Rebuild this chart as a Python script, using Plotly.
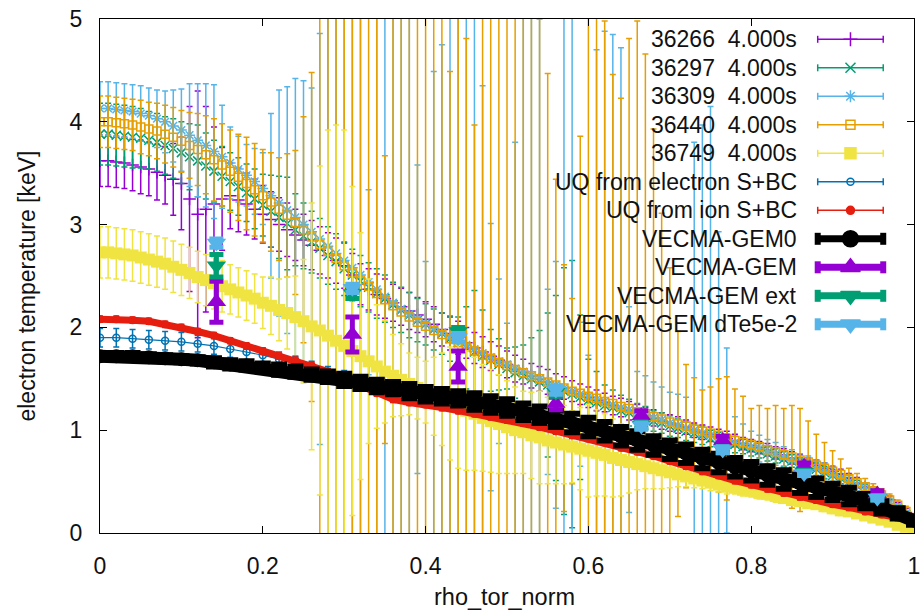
import plotly.graph_objects as go

# ---------------- data ----------------
# experimental profiles (shared rho grid, step 0.01)
RHO = [0.00,0.01,0.02,0.03,0.04,0.05,0.06,0.07,0.08,0.09,
       0.10,0.11,0.12,0.13,0.14,0.15,0.16,0.17,0.18,0.19,
       0.20,0.21,0.22,0.23,0.24,0.25,0.26,0.27,0.28,0.29,
       0.30,0.31,0.32,0.33,0.34,0.35,0.36,0.37,0.38,0.39,
       0.40,0.41,0.42,0.43,0.44,0.45,0.46,0.47,0.48,0.49,
       0.50,0.51,0.52,0.53,0.54,0.55,0.56,0.57,0.58,0.59,
       0.60,0.61,0.62,0.63,0.64,0.65,0.66,0.67,0.68,0.69,
       0.70,0.71,0.72,0.73,0.74,0.75,0.76,0.77,0.78,0.79,
       0.80,0.81,0.82,0.83,0.84,0.85,0.86,0.87,0.88,0.89,
       0.90,0.91,0.92,0.93,0.94,0.95,0.96,0.97,0.98,0.99,1.00]

TE_36266 = [3.62,3.62,3.61,3.60,3.58,3.56,3.54,3.51,3.48,3.44,
            3.40,3.25,3.10,3.15,3.20,3.25,3.28,3.24,3.20,3.15,
            3.10,3.05,3.00,2.95,2.90,2.85,2.80,2.75,2.70,2.65,
            2.60,2.51,2.42,2.37,2.32,2.28,2.24,2.20,2.16,2.12,
            2.08,2.03,1.98,1.94,1.90,1.85,1.80,1.76,1.72,1.68,
            1.64,1.60,1.57,1.53,1.50,1.47,1.44,1.41,1.38,1.35,
            1.32,1.29,1.27,1.24,1.22,1.19,1.17,1.14,1.12,1.09,
            1.07,1.05,1.03,1.00,0.98,0.96,0.94,0.92,0.90,0.87,
            0.85,0.83,0.81,0.78,0.76,0.73,0.71,0.68,0.66,0.63,
            0.60,0.57,0.53,0.49,0.45,0.41,0.37,0.32,0.26,0.20,0.13]
ER_36266 = [0.25,0.25,0.25,0.25,0.25,0.26,0.26,0.27,0.28,0.35,
            0.45,0.90,1.20,1.00,0.75,0.50,0.32,0.31,0.30,0.29,
            0.28,0.27,0.26,0.26,0.25,0.25,0.24,0.23,0.22,0.22,
            0.22,0.21,0.20,0.20,0.20,0.19,0.18,0.18,0.18,0.17,
            0.17,0.17,0.16,0.16,0.16,0.15,0.15,0.15,0.14,0.14,
            0.13,0.13,0.12,0.12,0.12,0.12,0.11,0.11,0.10,0.10,
            0.10,0.10,0.09,0.09,0.09,0.09,0.08,0.08,0.08,0.08,
            0.08,0.08,0.07,0.07,0.07,0.07,0.07,0.07,0.06,0.06,
            0.06,0.06,0.06,0.06,0.06,0.06,0.05,0.05,0.05,0.05,
            0.05,0.05,0.05,0.05,0.04,0.04,0.04,0.04,0.04,0.04,0.03]

TE_36297 = [3.88,3.88,3.87,3.86,3.85,3.84,3.82,3.80,3.77,3.74,
            3.70,3.66,3.62,3.57,3.52,3.47,3.42,3.37,3.31,3.25,
            3.19,3.13,3.07,3.01,2.95,2.89,2.83,2.77,2.70,2.64,
            2.57,2.51,2.45,2.39,2.33,2.28,2.22,2.17,2.12,2.07,
            2.03,1.98,1.94,1.89,1.85,1.80,1.76,1.72,1.68,1.64,
            1.60,1.56,1.53,1.50,1.47,1.44,1.41,1.38,1.35,1.32,
            1.29,1.27,1.24,1.22,1.19,1.17,1.14,1.12,1.09,1.07,
            1.04,1.02,0.99,0.97,0.95,0.92,0.90,0.88,0.86,0.84,
            0.82,0.80,0.77,0.75,0.72,0.70,0.67,0.65,0.62,0.59,
            0.56,0.53,0.49,0.46,0.42,0.38,0.34,0.29,0.24,0.18,0.12]
ER_36297 = [0.30,0.30,0.30,0.30,0.30,0.29,0.28,0.28,0.28,0.29,
            0.30,0.32,0.35,0.32,0.30,0.29,0.28,0.28,0.28,0.29,
            0.30,0.35,0.40,0.45,0.35,0.32,0.30,0.29,0.28,0.27,
            0.26,0.25,0.25,0.24,0.24,0.23,0.22,0.22,0.22,0.21,
            0.20,0.20,0.20,0.22,0.25,0.40,0.60,0.45,0.30,0.25,
            0.20,0.25,0.30,0.40,0.50,0.70,0.90,1.20,1.30,0.80,
            0.40,0.30,0.20,0.17,0.15,0.13,0.12,0.11,0.10,0.10,
            0.10,0.09,0.09,0.09,0.09,0.08,0.08,0.08,0.08,0.07,
            0.07,0.07,0.07,0.07,0.07,0.06,0.06,0.06,0.06,0.06,
            0.06,0.05,0.05,0.05,0.05,0.05,0.05,0.04,0.04,0.04,0.04]

TE_36309 = [4.13,4.13,4.12,4.11,4.10,4.08,4.06,4.03,4.00,3.96,
            3.92,3.87,3.82,3.77,3.71,3.66,3.60,3.54,3.48,3.42,
            3.35,3.28,3.21,3.14,3.07,3.00,2.93,2.86,2.79,2.72,
            2.65,2.58,2.51,2.44,2.37,2.30,2.24,2.18,2.13,2.08,
            2.04,1.99,1.95,1.91,1.87,1.83,1.79,1.75,1.71,1.67,
            1.64,1.60,1.57,1.53,1.50,1.47,1.44,1.41,1.38,1.35,
            1.33,1.30,1.28,1.25,1.22,1.20,1.17,1.15,1.12,1.10,
            1.07,1.05,1.02,1.00,0.97,0.95,0.93,0.90,0.88,0.86,
            0.84,0.82,0.79,0.77,0.74,0.71,0.68,0.66,0.63,0.60,
            0.57,0.54,0.50,0.47,0.43,0.39,0.34,0.29,0.24,0.18,0.12]
ER_36309 = [0.26,0.26,0.26,0.26,0.26,0.27,0.27,0.28,0.30,0.35,
            0.40,0.50,0.55,0.60,0.65,0.50,0.35,0.32,0.30,0.32,
            0.35,0.80,1.10,1.20,1.35,1.40,1.40,2.00,2.80,3.00,
            3.20,3.10,3.00,0.90,2.90,3.00,3.10,3.30,3.20,1.50,
            0.60,2.50,2.80,3.20,3.50,3.60,3.40,2.60,1.30,0.80,
            0.40,2.20,3.60,3.70,3.50,0.90,1.20,3.60,3.70,0.70,
            0.40,3.40,3.60,3.60,3.50,1.00,0.40,0.38,0.35,0.32,
            0.30,0.30,0.30,2.80,3.00,3.20,2.00,0.90,0.25,0.20,
            0.15,0.13,0.12,0.11,0.10,0.10,0.09,0.09,0.08,0.08,
            0.07,0.07,0.06,0.06,0.05,0.05,0.05,0.05,0.04,0.04,0.04]

TE_36440 = [4.00,4.00,3.99,3.98,3.97,3.95,3.93,3.91,3.88,3.85,
            3.81,3.77,3.73,3.68,3.63,3.58,3.52,3.46,3.40,3.34,
            3.28,3.22,3.15,3.09,3.02,2.95,2.88,2.81,2.74,2.67,
            2.60,2.53,2.46,2.40,2.33,2.27,2.21,2.15,2.10,2.05,
            2.01,1.97,1.93,1.89,1.85,1.81,1.77,1.73,1.70,1.66,
            1.63,1.59,1.56,1.53,1.50,1.47,1.44,1.41,1.38,1.36,
            1.33,1.31,1.28,1.26,1.23,1.21,1.18,1.16,1.13,1.11,
            1.08,1.06,1.04,1.01,0.99,0.97,0.95,0.92,0.90,0.88,
            0.86,0.84,0.81,0.79,0.76,0.74,0.71,0.69,0.66,0.63,
            0.60,0.57,0.53,0.49,0.45,0.41,0.37,0.32,0.27,0.21,0.14]
ER_36440 = [0.25,0.25,0.25,0.25,0.25,0.26,0.26,0.27,0.28,0.29,
            0.30,0.32,0.35,0.38,0.40,0.40,0.40,0.42,0.45,0.45,
            0.45,0.48,0.50,0.60,0.70,1.10,1.60,3.60,3.50,3.30,
            3.40,3.50,3.60,3.40,3.20,1.40,3.50,3.70,3.80,3.10,
            3.40,3.50,3.60,2.60,3.30,3.00,2.20,3.50,3.60,3.40,
            3.50,3.60,3.70,3.80,3.60,3.00,2.00,1.20,0.90,2.50,
            3.80,3.90,3.70,3.20,3.00,3.60,3.80,3.50,2.80,2.00,
            1.50,0.90,0.60,0.50,0.40,0.45,0.55,0.60,0.50,0.45,
            0.35,0.40,0.40,0.45,0.45,0.50,0.50,0.40,0.30,0.25,
            0.20,0.15,0.10,0.09,0.08,0.07,0.06,0.06,0.05,0.05,0.05]

TE_36749 = [2.73,2.73,2.72,2.71,2.70,2.68,2.66,2.64,2.62,2.59,
            2.56,2.53,2.49,2.46,2.43,2.40,2.37,2.34,2.31,2.28,
            2.24,2.21,2.17,2.14,2.10,2.06,2.01,1.97,1.92,1.87,
            1.82,1.77,1.72,1.67,1.62,1.57,1.53,1.49,1.45,1.41,
            1.37,1.33,1.30,1.26,1.23,1.19,1.16,1.12,1.09,1.06,
            1.03,1.00,0.98,0.95,0.93,0.90,0.88,0.86,0.84,0.82,
            0.80,0.78,0.76,0.73,0.71,0.69,0.67,0.65,0.63,0.61,
            0.59,0.57,0.55,0.53,0.51,0.49,0.47,0.45,0.44,0.42,
            0.41,0.39,0.38,0.36,0.34,0.32,0.31,0.29,0.28,0.26,
            0.24,0.22,0.21,0.19,0.17,0.15,0.13,0.11,0.08,0.06,0.04]
ER_36749 = [0.25,0.25,0.25,0.25,0.25,0.25,0.25,0.25,0.25,0.25,
            0.25,0.25,0.25,0.25,0.25,0.25,0.24,0.24,0.24,0.24,
            0.25,0.28,0.30,0.35,0.40,0.60,1.20,1.60,2.00,2.10,
            2.10,1.60,1.20,0.80,0.60,0.50,0.40,0.35,0.30,0.30,
            0.30,0.38,0.45,0.55,0.60,0.58,0.55,0.52,0.50,0.48,
            0.45,0.42,0.40,0.42,0.45,0.42,0.40,0.38,0.35,0.40,
            0.45,0.42,0.40,0.38,0.35,0.30,0.25,0.22,0.20,0.18,
            0.15,0.12,0.10,0.09,0.08,0.08,0.07,0.07,0.06,0.06,
            0.06,0.06,0.06,0.06,0.05,0.05,0.05,0.05,0.05,0.05,
            0.05,0.05,0.04,0.04,0.04,0.04,0.04,0.04,0.04,0.04,0.04]

# model profiles (step 0.02)
RHO_M = [0.00,0.02,0.04,0.06,0.08,0.10,0.12,0.14,0.16,0.18,
         0.20,0.22,0.24,0.26,0.28,0.30,0.32,0.34,0.36,0.38,
         0.40,0.42,0.44,0.46,0.48,0.50,0.52,0.54,0.56,0.58,
         0.60,0.62,0.64,0.66,0.68,0.70,0.72,0.74,0.76,0.78,
         0.80,0.82,0.84,0.86,0.88,0.90,0.92,0.94,0.96,0.98,1.00]

TE_UQ_E = [1.90,1.90,1.89,1.88,1.87,1.86,1.84,1.82,1.79,1.76,
           1.73,1.69,1.65,1.61,1.56,1.52,1.47,1.43,1.39,1.36,
           1.33,1.30,1.27,1.24,1.21,1.18,1.14,1.11,1.07,1.03,
           0.99,0.95,0.91,0.87,0.82,0.78,0.74,0.70,0.66,0.62,
           0.58,0.54,0.50,0.46,0.42,0.38,0.34,0.29,0.24,0.18,0.12]
ER_UQ_E = [0.09,0.09,0.09,0.09,0.09,0.09,0.08,0.08,0.08,0.08,
           0.07,0.07,0.07,0.06,0.06,0.06,0.05,0.05,0.05,0.05,
           0.05,0.05,0.05,0.05,0.05,0.05,0.05,0.05,0.05,0.05,
           0.05,0.05,0.05,0.05,0.05,0.05,0.05,0.05,0.05,0.05,
           0.04,0.04,0.04,0.04,0.04,0.04,0.04,0.04,0.03,0.03,0.03]

TE_UQ_I = [2.08,2.08,2.07,2.06,2.03,2.00,1.96,1.92,1.87,1.82,
           1.77,1.72,1.68,1.63,1.57,1.50,1.43,1.36,1.30,1.27,
           1.25,1.22,1.19,1.16,1.13,1.10,1.07,1.03,0.99,0.95,
           0.92,0.88,0.83,0.79,0.75,0.70,0.65,0.60,0.56,0.51,
           0.47,0.43,0.39,0.35,0.32,0.28,0.25,0.21,0.18,0.15,0.12]
ER_UQ_I = [0.03,0.03,0.03,0.03,0.03,0.03,0.03,0.03,0.03,0.03,
           0.03,0.03,0.03,0.03,0.03,0.03,0.03,0.03,0.03,0.03,
           0.03,0.03,0.03,0.03,0.03,0.03,0.03,0.03,0.03,0.03,
           0.03,0.03,0.03,0.03,0.03,0.03,0.03,0.03,0.03,0.03,
           0.03,0.03,0.03,0.03,0.03,0.03,0.03,0.03,0.03,0.03,0.03]

TE_GEM0 = [1.72,1.72,1.72,1.71,1.70,1.69,1.68,1.66,1.64,1.63,
           1.61,1.59,1.57,1.54,1.52,1.49,1.46,1.43,1.41,1.38,
           1.35,1.33,1.31,1.28,1.25,1.22,1.18,1.15,1.11,1.07,
           1.03,0.99,0.94,0.90,0.85,0.81,0.77,0.72,0.68,0.64,
           0.60,0.56,0.52,0.48,0.44,0.40,0.36,0.31,0.25,0.19,0.12]
ER_GEM0 = [0.03,0.03,0.03,0.03,0.03,0.03,0.03,0.04,0.04,0.04,
           0.04,0.05,0.05,0.05,0.05,0.06,0.06,0.06,0.06,0.07,
           0.07,0.07,0.07,0.08,0.08,0.08,0.08,0.08,0.08,0.09,
           0.09,0.09,0.09,0.09,0.09,0.09,0.09,0.09,0.09,0.09,
           0.09,0.09,0.09,0.09,0.09,0.08,0.08,0.07,0.06,0.05,0.04]

GEM_RHO = [0.143, 0.31, 0.44, 0.56, 0.665, 0.765, 0.865, 0.955]
TE_GEM = [2.25, 1.93, 1.62, 1.26, 1.14, 0.90, 0.65, 0.38]
ER_GEM = [0.20, 0.17, 0.15, 0.06, 0.05, 0.04, 0.03, 0.03]
TE_GEM_EXT = [2.60, 2.33, 1.96, 1.37, 1.05, 0.81, 0.59, 0.34]
ER_GEM_EXT = [0.11, 0.05, 0.04, 0.04, 0.03, 0.03, 0.02, 0.02]
TE_GEM_DTE = [2.82, 2.38, 1.90, 1.39, 1.04, 0.81, 0.58, 0.34]
ER_GEM_DTE = [0.04, 0.04, 0.04, 0.04, 0.03, 0.03, 0.02, 0.02]

LABELS = ["36266\u00a0 4.000s", "36297\u00a0 4.000s", "36309\u00a0 4.000s",
          "36440\u00a0 4.000s", "36749\u00a0 4.000s", "UQ from electron S+BC",
          "UQ from ion S+BC", "VECMA-GEM0", "VECMA-GEM", "VECMA-GEM ext",
          "VECMA-GEM dTe5e-2"]

PURPLE = "#9400D3"
GREEN = "#009E73"
LBLUE = "#56B4E9"
ORANGE = "#E69F00"
YELLOW = "#F0E442"
BLUE = "#0072B2"
RED = "#E51E10"
BLACK = "#000000"

FONT = "Liberation Sans, Arial, sans-serif"

fig = go.Figure()


def prof_trace(x, y, err, color, symbol, size, mode="markers", lw=0, mline=1.5):
    fig.add_trace(go.Scatter(
        x=x, y=y, mode=mode,
        line=dict(color=color, width=lw),
        marker=dict(symbol=symbol, size=size, color=color,
                    line=dict(color=color, width=mline)),
        error_y=dict(type="data", array=err, visible=True, color=color,
                     thickness=1.5, width=3),
        showlegend=False, hoverinfo="skip"))


prof_trace(RHO, TE_36266, ER_36266, PURPLE, "cross-thin", 9)
prof_trace(RHO, TE_36297, ER_36297, GREEN, "x-thin", 9)
prof_trace(RHO, TE_36309, ER_36309, LBLUE, "asterisk", 9)
prof_trace(RHO, TE_36440, ER_36440, ORANGE, "square-open", 8)
prof_trace(RHO, TE_36749, ER_36749, YELLOW, "square", 12, mline=0)
prof_trace(RHO_M, TE_UQ_E, ER_UQ_E, BLUE, "circle-open", 7, mode="lines+markers", lw=1.2)
prof_trace(RHO_M, TE_UQ_I, ER_UQ_I, RED, "circle", 8, mode="lines+markers", lw=7, mline=0)

# VECMA-GEM0: thick black band
fig.add_trace(go.Scatter(
    x=RHO_M, y=TE_GEM0, mode="lines+markers",
    line=dict(color=BLACK, width=13),
    marker=dict(symbol="circle", size=14, color=BLACK),
    error_y=dict(type="data", array=ER_GEM0, visible=True, color=BLACK,
                 thickness=6, width=8),
    showlegend=False, hoverinfo="skip"))


def gem_trace(y, err, color, symbol):
    fig.add_trace(go.Scatter(
        x=GEM_RHO, y=y, mode="markers",
        marker=dict(symbol=symbol, size=17, color=color, line=dict(width=0)),
        error_y=dict(type="data", array=err, visible=True, color=color,
                     thickness=5, width=7),
        showlegend=False, hoverinfo="skip"))


gem_trace(TE_GEM, ER_GEM, PURPLE, "triangle-up")
gem_trace(TE_GEM_EXT, ER_GEM_EXT, GREEN, "triangle-down")
gem_trace(TE_GEM_DTE, ER_GEM_DTE, LBLUE, "triangle-down")

# ---------------- key (gnuplot style, drawn in pixel coordinates) ----------------
KEY_STYLE = [
    (PURPLE, "cross-thin", 10, 1.5, False),
    (GREEN, "x-thin", 10, 1.5, False),
    (LBLUE, "asterisk", 10, 1.5, False),
    (ORANGE, "square-open", 9, 1.5, False),
    (YELLOW, "square", 11, 1.5, False),
    (BLUE, "circle-open", 7, 1.5, False),
    (RED, "circle", 8, 1.5, False),
    (BLACK, "circle", 16, 7, True),
    (PURPLE, "triangle-up", 17, 7, True),
    (GREEN, "triangle-down", 17, 7, True),
    (LBLUE, "triangle-down", 17, 7, True),
]
X0, X1, XM = 823, 889, 856
annotations = []
for i, (lab, (col, sym, ms, lw, thick)) in enumerate(zip(LABELS, KEY_STYLE)):
    yk = 39.3 + 28.5 * i
    ch = 6 if thick else 3.5
    cw = 6 if thick else 1.5
    fig.add_trace(go.Scatter(
        x=[X0, X1], y=[yk, yk], xaxis="x2", yaxis="y2", mode="lines",
        line=dict(color=col, width=lw), showlegend=False, hoverinfo="skip"))
    fig.add_trace(go.Scatter(
        x=[X0, X0, None, X1, X1], y=[yk - ch, yk + ch, None, yk - ch, yk + ch],
        xaxis="x2", yaxis="y2", mode="lines",
        line=dict(color=col, width=cw), showlegend=False, hoverinfo="skip"))
    fig.add_trace(go.Scatter(
        x=[XM], y=[yk], xaxis="x2", yaxis="y2", mode="markers",
        marker=dict(symbol=sym, size=ms, color=col, line=dict(color=col, width=1.5)),
        showlegend=False, hoverinfo="skip"))
    annotations.append(dict(
        x=803, y=yk, xref="x2", yref="y2", text=lab, showarrow=False,
        xanchor="right", yanchor="middle", borderpad=0,
        font=dict(family=FONT, size=23, color="#111111")))

# axis titles (paper coordinates; plot area is 820 x 514 px)
annotations.append(dict(
    x=(26 - 100) / 820, y=(533 - 286) / 514, xref="paper", yref="paper",
    text="electron temperature [keV]", textangle=-90, showarrow=False,
    xanchor="center", yanchor="middle",
    font=dict(family=FONT, size=23, color="#111111")))
annotations.append(dict(
    x=(507 - 100) / 820, y=(533 - 597) / 514, xref="paper", yref="paper",
    text="rho_tor_norm", showarrow=False, xanchor="center", yanchor="middle",
    font=dict(family=FONT, size=23.5, color="#111111")))

axis_common = dict(
    showgrid=False, zeroline=False, showline=True, linecolor="black",
    linewidth=1, mirror="ticks", ticks="inside", ticklen=7, tickwidth=1,
    tickcolor="black", ticklabeloverflow="allow",
    tickfont=dict(family=FONT, size=23, color="#111111"))

fig.update_layout(
    width=922, height=616,
    margin=dict(l=100, r=2, t=19, b=83),
    paper_bgcolor="white", plot_bgcolor="white",
    xaxis=dict(range=[0, 1], tickvals=[0, 0.2, 0.4, 0.6, 0.8, 1],
               ticktext=["0", "0.2", "0.4", "0.6", "0.8", "1"],
               ticklabelstandoff=12, **axis_common),
    yaxis=dict(range=[0, 5], tickvals=[0, 1, 2, 3, 4, 5],
               ticklabelstandoff=12, **axis_common),
    xaxis2=dict(range=[100, 920], overlaying="x", anchor="y2", visible=False,
                fixedrange=True),
    yaxis2=dict(range=[533, 19], overlaying="y", anchor="x2", visible=False,
                fixedrange=True),
    annotations=annotations,
    showlegend=False,
)

fig.write_html("out.html")
